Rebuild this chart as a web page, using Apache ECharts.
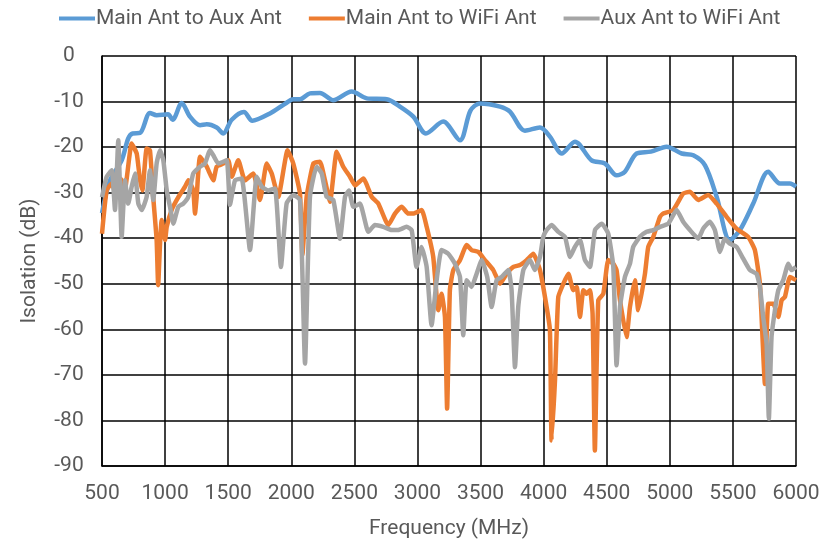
<!DOCTYPE html>
<html>
<head>
<meta charset="utf-8">
<script src="https://cdn.jsdelivr.net/npm/echarts@6/dist/echarts.min.js"></script>
<style>html,body{margin:0;padding:0;background:#fff}#c{width:833px;height:546px}</style>
</head>
<body>
<div id="c"></div>
<script>
const seriesNames = ['Main Ant to Aux Ant', 'Main Ant to WiFi Ant', 'Aux Ant to WiFi Ant'];
const xTicks = [500, 1000, 1500, 2000, 2500, 3000, 3500, 4000, 4500, 5000, 5500, 6000];

const mainAuxFreq = [500,563,656,708,743,801,880,933,1023,1060,1132,1197,1277,1330,1409,1461,1528,1625,1691,1831,1950,2016,2069,2148,2227,2331,2479,2598,2756,2861,2967,3067,3204,3337,3420,3495,3654,3733,3852,3971,4050,4143,4248,4380,4486,4578,4644,4737,4850,4975,5094,5186,5279,5371,5476,5556,5661,5780,5873,5952,6000];
const mainAuxDb = [-34.5,-27.3,-22.9,-18.1,-17,-16.9,-12.5,-13,-12.8,-14,-10.3,-13.3,-15.2,-15,-15.7,-17,-14,-12.3,-14.2,-12.6,-10.5,-9.5,-9.5,-8.2,-8.1,-9.7,-7.8,-9.3,-9.5,-11.1,-13.3,-17,-14.4,-18.5,-12,-10.4,-11.1,-12.2,-16.4,-15.7,-17.7,-21.4,-18.8,-22.9,-23.6,-26.2,-25.4,-21.4,-21,-19.9,-21.4,-21.8,-24,-30.9,-40.4,-38.2,-32.4,-25.4,-28,-28,-28.7];

const mainWifiFreq = [500,537,577,616,650,680,735,775,800,820,854,880,906,933,945,960,973,1000,1013,1052,1105,1158,1184,1223,1237,1250,1277,1330,1382,1409,1461,1501,1528,1580,1633,1699,1752,1805,1845,1897,1971,2016,2069,2088,2122,2175,2227,2267,2307,2360,2412,2465,2505,2571,2637,2690,2769,2822,2875,2927,2967,3033,3073,3125,3165,3191,3218,3235,3257,3284,3337,3390,3429,3482,3535,3601,3654,3707,3760,3812,3865,3918,3971,4024,4050,4063,4090,4116,4156,4196,4235,4262,4288,4315,4341,4367,4388,4406,4433,4473,4512,4552,4578,4605,4657,4684,4723,4750,4803,4829,4869,4922,4948,5027,5106,5159,5225,5304,5371,5450,5529,5621,5674,5714,5754,5780,5820,5860,5886,5912,5952,6000];
const mainWifiDb = [-39,-29.5,-28,-31,-27,-29.5,-19.2,-21.4,-27,-29.5,-20.3,-20.7,-31,-40.4,-50.3,-41.2,-36,-40.4,-37.5,-33.8,-31,-28.7,-27.3,-29.5,-34.6,-31,-22.1,-24.3,-27.3,-24.3,-23.6,-22.9,-26.5,-22.9,-27.3,-25.8,-31.6,-23.6,-25.8,-30.9,-20.7,-23.6,-30.2,-43.7,-30.9,-23.6,-23.2,-27.3,-32,-21,-24.3,-26.5,-28.4,-26.9,-30.9,-32.4,-37.1,-34.6,-33.1,-34.6,-34.6,-33.8,-37.5,-44.1,-55.8,-52.2,-57.3,-77.4,-51.4,-47,-44.8,-41.5,-42.6,-43,-44.8,-47,-50,-47.8,-46.3,-45.9,-44.8,-43.4,-47,-55.1,-60.2,-84.4,-71.2,-52.9,-50,-47.8,-51.4,-50.7,-57.3,-51.4,-52.2,-51.4,-56.6,-86.6,-53.6,-52.2,-44.8,-45.6,-47,-53.6,-61.7,-55.1,-49.2,-55.8,-47.8,-41.9,-39.7,-35.3,-34.6,-33.8,-30.2,-29.8,-31.6,-30.5,-32.4,-35.3,-37.9,-39.7,-42.6,-50,-72,-54.4,-54.4,-57.3,-53.6,-52.9,-48.5,-49.2];

const auxWifiFreq = [500,537,577,603,629,656,682,708,735,761,788,815,854,880,906,933,960,986,1013,1039,1065,1105,1144,1184,1223,1277,1316,1356,1382,1422,1488,1514,1554,1607,1673,1726,1766,1818,1871,1918,1963,2016,2069,2109,2148,2201,2241,2280,2333,2386,2426,2457,2492,2544,2611,2663,2729,2795,2848,2914,2954,2993,3033,3073,3112,3152,3191,3244,3297,3337,3363,3390,3429,3469,3509,3553,3588,3627,3667,3720,3746,3773,3799,3839,3892,3931,3971,3997,4024,4063,4116,4169,4209,4248,4288,4327,4367,4407,4460,4512,4552,4578,4605,4644,4684,4710,4763,4816,4869,4922,4988,5054,5106,5159,5225,5264,5317,5357,5397,5436,5476,5529,5582,5635,5687,5714,5740,5767,5785,5806,5833,5860,5899,5939,5965,6000];
const auxWifiDb = [-31,-26.5,-25.1,-33.8,-18.5,-39.7,-27.3,-32.4,-28.7,-25.8,-32.4,-33.8,-30.9,-25.1,-31.6,-23.6,-20.7,-22.9,-29.5,-33.1,-36.8,-33.1,-32.4,-30.9,-25.8,-24.3,-23.6,-20.7,-21.8,-23.6,-22.9,-32.7,-27.3,-26.9,-42.6,-26.5,-28.7,-29.5,-29.1,-46.3,-32.4,-30.5,-31.6,-67.5,-30.9,-24.3,-25.8,-30.9,-31.6,-40.1,-30.9,-29.5,-33.1,-32.4,-38.6,-37.1,-37.5,-38.2,-38.2,-37.5,-38.2,-46.3,-41.9,-46.3,-59.1,-49.2,-42.6,-43.4,-45.6,-48.5,-61.3,-49.2,-50.7,-47.8,-44.8,-48.5,-55.1,-49.2,-48.5,-47,-51.4,-68.3,-55,-47,-44.8,-47,-44.1,-39.7,-38.2,-37.1,-38.6,-39.7,-44.1,-41.9,-40.4,-44.8,-46.3,-38.2,-36.8,-39,-46.3,-67.9,-55.1,-48.5,-45.6,-41.9,-39.7,-38.6,-38.2,-37.5,-36.8,-33.8,-36.4,-38.2,-40.1,-37.9,-36.4,-38.2,-43,-40.1,-41.2,-41.9,-44.5,-47,-47.8,-50.7,-57.3,-63.2,-79.6,-61.7,-55.8,-51.4,-49.2,-45.6,-47,-46.3];

const colors = ['#5B9BD5', '#ED7D31', '#A5A5A5'];
const zip = (xs, ys) => xs.map((x, i) => [x, ys[i]]);
const font = 'Roboto, "Liberation Sans", sans-serif';
const txt = '#595959';

const chart = echarts.init(document.getElementById('c'), null, {renderer: 'canvas'});
chart.setOption({
  animation: false,
  backgroundColor: '#fff',
  color: colors,
  legend: {
    data: seriesNames,
    left: 54, top: 3,
    icon: 'rect', itemWidth: 36, itemHeight: 4, itemGap: 27,
    textStyle: {color: txt, fontSize: 21, fontFamily: font, padding: [0, 0, 0, -4]}
  },
  grid: {left: 102, right: 37, top: 56, bottom: 80, containLabel: false},
  xAxis: {
    type: 'value', min: 500, max: 6000, interval: 500,
    name: 'Frequency (MHz)', nameLocation: 'middle', nameGap: 52,
    nameTextStyle: {color: txt, fontSize: 21, fontFamily: font},
    axisLine: {show: true, onZero: false, lineStyle: {color: '#000', width: 1.5}},
    axisTick: {show: false},
    axisLabel: {color: txt, fontSize: 21, fontFamily: font, margin: 17,
      formatter: v => xTicks.includes(v) ? String(v) : ''},
    splitLine: {show: true, lineStyle: {color: '#000', width: 1.5}}
  },
  yAxis: {
    type: 'value', min: -90, max: 0, interval: 10,
    name: 'Isolation (dB)', nameLocation: 'middle', nameGap: 62, nameRotate: 90,
    nameTextStyle: {color: txt, fontSize: 21, fontFamily: font},
    axisLine: {show: true, onZero: false, lineStyle: {color: '#000', width: 1.5}},
    axisTick: {show: false},
    axisLabel: {color: txt, fontSize: 21, fontFamily: font, margin: 33, align: 'center'},
    splitLine: {show: true, lineStyle: {color: '#000', width: 1.5}}
  },
  series: [
    {name: seriesNames[0], type: 'line', data: zip(mainAuxFreq, mainAuxDb), showSymbol: false, smooth: 0.3, lineStyle: {width: 4.5}},
    {name: seriesNames[1], type: 'line', data: zip(mainWifiFreq, mainWifiDb), showSymbol: false, smooth: 0.15, lineStyle: {width: 4.5}},
    {name: seriesNames[2], type: 'line', data: zip(auxWifiFreq, auxWifiDb), showSymbol: false, smooth: 0.15, lineStyle: {width: 4.5}}
  ]
});
</script>
</body>
</html>
